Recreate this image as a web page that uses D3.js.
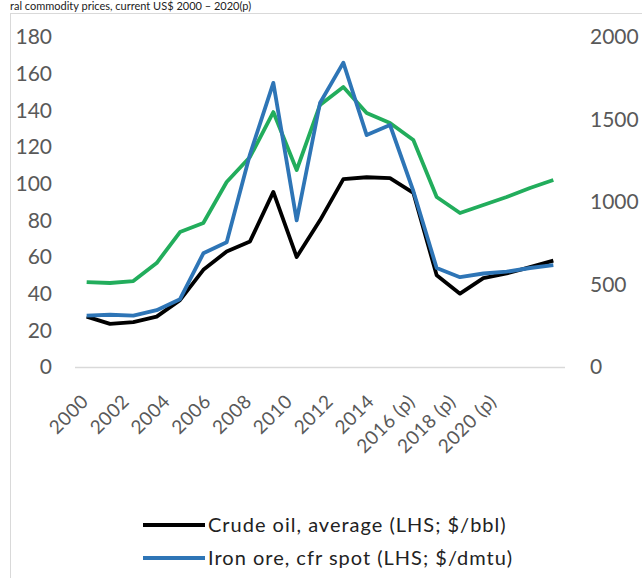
<!DOCTYPE html>
<html><head><meta charset="utf-8">
<script src="https://cdn.jsdelivr.net/npm/d3@7"></script>
<style>body{margin:0;background:#fff;overflow:hidden}svg{display:block}</style>
</head><body>
<svg id="c" width="642" height="578"></svg>
<script>
const years = ["2000","2001","2002","2003","2004","2005","2006","2007","2008","2009","2010","2011","2012","2013","2014","2015","2016 (p)","2017 (p)","2018 (p)","2019 (p)","2020 (p)"];
const tickLabels = ["2000","2002","2004","2006","2008","2010","2012","2014","2016 (p)","2018 (p)","2020 (p)"];
const crudeOil = [27.5,23.5,24.5,27.5,36.5,53,63,68.5,95.5,60,80,102.5,103.5,103,95,50,40,48.5,51,54.5,58];
const ironOre = [28,28.5,28,31,37,62,68,116,155,80,144,166,126.5,132,96,54,49,51,52,54,55.6];
const greenSeries = [515,509,521,630,818,873,1121,1273,1545,1194,1588,1697,1539,1479,1376,1030,933,982,1030,1085,1133];
const leftTicks = [0,20,40,60,80,100,120,140,160,180];
const rightTicks = [0,500,1000,1500,2000];
const legendItems = [
  {name:"Crude oil, average (LHS; $/bbl)", color:"#000000"},
  {name:"Iron ore, cfr spot (LHS; $/dmtu)", color:"#2e75b6"}
];
const title = "ral commodity prices, current US$ 2000 \u2013 2020(p)";

const svg = d3.select("#c");
const font = "Lato, 'Open Sans', sans-serif";

svg.append("rect").attr("x",10.5).attr("y",13.5).attr("width",660).attr("height",600).attr("fill","none").attr("stroke","#d9d9d9");
svg.append("text").attr("x",10).attr("y",10).attr("font-family",font).attr("font-size",11).attr("fill","#222").text(title);

const x = d3.scalePoint().domain(years).range([75,565]).padding(0.5);
const xLab = d3.scalePoint().domain(years).range([85,493]);
const yL = d3.scaleLinear().domain([0,180]).range([367,37]);
const yR = d3.scaleLinear().domain([0,2000]).range([367,37]);

// axis line
svg.append("line").attr("x1",75).attr("x2",565).attr("y1",yL(0)+0.5).attr("y2",yL(0)+0.5).attr("stroke","#d9d9d9").attr("stroke-width",1.5);

// left ticks
svg.append("g").selectAll("text").data(leftTicks).join("text")
  .attr("x",52).attr("y",d=>yL(d)).attr("dy","0.35em").attr("text-anchor","end")
  .attr("font-family",font).attr("font-size",21).attr("fill","#595959").text(d=>d);
// right ticks
svg.append("g").selectAll("text").data(rightTicks).join("text")
  .attr("x",590).attr("y",d=>yR(d)).attr("dy","0.35em").attr("text-anchor","start")
  .attr("font-family",font).attr("font-size",21).attr("fill","#595959").text(d=>d);
// x labels
svg.append("g").selectAll("text").data(tickLabels).join("text")
  .attr("transform",d=>`translate(${xLab(d)},${398}) rotate(-45)`)
  .attr("text-anchor","end").attr("dy","0.35em").attr("letter-spacing",0.5)
  .attr("font-family",font).attr("font-size",19).attr("fill","#595959").text(d=>d);

const line = (yS)=>d3.line().x((d,i)=>x(years[i])).y(d=>yS(d));
svg.append("path").datum(greenSeries).attr("d",line(yR)).attr("fill","none").attr("stroke","#22ad5c").attr("stroke-width",3.8).attr("stroke-linejoin","round");
svg.append("path").datum(crudeOil).attr("d",line(yL)).attr("fill","none").attr("stroke","#000").attr("stroke-width",3.8).attr("stroke-linejoin","round");
svg.append("path").datum(ironOre).attr("d",line(yL)).attr("fill","none").attr("stroke","#2e75b6").attr("stroke-width",3.8).attr("stroke-linejoin","round");

// legend
const lg = svg.append("g").selectAll("g").data(legendItems).join("g")
  .attr("transform",(d,i)=>`translate(143,${525+i*33})`);
lg.append("line").attr("x1",0).attr("x2",62).attr("stroke",d=>d.color).attr("stroke-width",4);
lg.append("text").attr("x",65).attr("dy","0.35em").attr("letter-spacing",1).attr("font-family",font).attr("font-size",20).attr("fill","#222").text(d=>d.name);
</script>
</body></html>
